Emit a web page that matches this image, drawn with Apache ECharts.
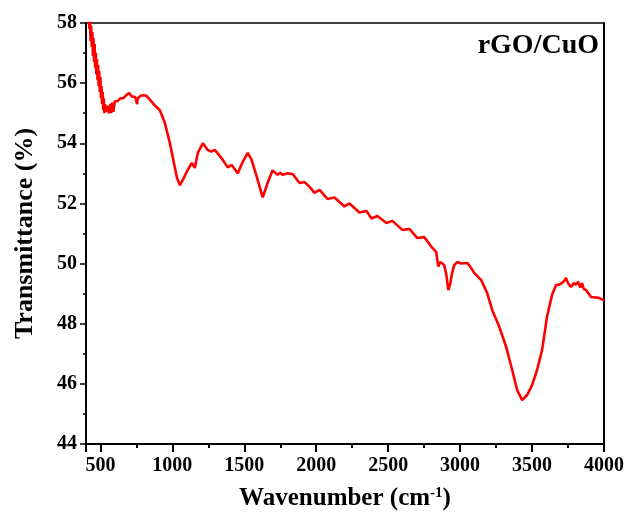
<!DOCTYPE html>
<html>
<head>
<meta charset="utf-8">
<script src="https://cdn.jsdelivr.net/npm/echarts@6/dist/echarts.min.js"></script>
<style>html,body{margin:0;padding:0;background:#fff}#c{width:627px;height:516px}</style>
</head>
<body>
<div id="c"></div>
<script>
const wavenumber = [420,424,428,432,436,440,444,448,452,456,460,464,468,472,476,480,484,488,492,496,500,504,508,512,516,520,524,528,532,540,550,560,570,575,580,590,600,610,620,640,660,680,700,720,740,750,755,760,780,800,820,844,870,913,948,983,1003,1031,1052,1073,1100,1135,1156,1177,1212,1246,1270,1295,1343,1385,1413,1454,1489,1524,1551,1586,1628,1662,1697,1732,1750,1766,1801,1836,1884,1919,1954,1988,2023,2078,2127,2196,2231,2300,2349,2384,2425,2488,2529,2599,2647,2703,2751,2807,2834,2848,2862,2875,2890,2905,2918,2930,2945,2959,2980,3008,3050,3070,3098,3147,3188,3223,3272,3320,3362,3396,3431,3466,3500,3535,3570,3604,3639,3667,3690,3702,3720,3736,3750,3771,3790,3806,3820,3835,3847,3860,3875,3910,3965,3993,4000];
const transmittance = [58.2,57.8,58.1,57.4,57.9,57.2,57.7,56.9,57.5,56.7,57.3,56.5,57.0,56.3,56.8,56.1,56.6,55.9,56.4,55.7,56.2,55.5,55.9,55.3,55.7,55.1,55.5,55.0,55.3,55.05,55.25,55.0,55.3,55.0,55.35,55.05,55.4,55.45,55.4,55.5,55.5,55.6,55.67,55.55,55.55,55.4,55.3,55.5,55.58,55.6,55.58,55.45,55.3,55.1,54.68,54.0,53.54,52.88,52.6,52.78,53.05,53.35,53.18,53.68,54.0,53.78,53.72,53.78,53.5,53.2,53.28,53.0,53.38,53.68,53.45,52.9,52.2,52.68,53.1,52.95,53.02,52.95,53.0,52.98,52.68,52.71,52.55,52.35,52.45,52.15,52.2,51.9,52.0,51.7,51.75,51.5,51.58,51.35,51.42,51.12,51.15,50.85,50.88,50.52,50.39,49.9,50.05,50.02,49.95,49.6,49.12,49.3,49.7,49.95,50.05,50.0,50.02,49.9,49.69,49.45,49.02,48.46,47.9,47.23,46.46,45.8,45.46,45.63,45.96,46.46,47.13,48.23,48.96,49.29,49.3,49.35,49.4,49.52,49.35,49.22,49.35,49.3,49.4,49.2,49.35,49.15,49.12,48.89,48.86,48.79,48.78];
const sampleLabel = 'rGO/CuO';

const font = 'Liberation Serif, Times New Roman, serif';
const chart = echarts.init(document.getElementById('c'), null, {renderer: 'canvas'});
chart.setOption({
  animation: false,
  backgroundColor: '#fff',
  title: {
    text: sampleLabel, right: 28, top: 32, padding: 0,
    textStyle: {fontFamily: font, fontWeight: 'bold', fontSize: 28, color: '#000'}
  },
  grid: {left: 86, right: 22, top: 23, bottom: 72, show: false},
  xAxis: [{
    type: 'value', min: 400, max: 4000, splitNumber: 7, position: 'bottom',
    axisLine: {show: true, onZero: false, lineStyle: {color: '#000', width: 2}},
    axisTick: {show: true, inside: false, length: 8, lineStyle: {color: '#000', width: 2}},
    minorTick: {show: true, splitNumber: 2, length: 4, lineStyle: {color: '#000', width: 2}},
    axisLabel: {show: true, showMinLabel: false, showMaxLabel: true, hideOverlap: false, margin: 12, formatter: v => (v % 500 === 0 ? String(v) : ''), fontFamily: font, fontWeight: 'bold', fontSize: 20, color: '#000'},
    splitLine: {show: false},
    name: 'Wavenumber (cm{sup|-1})', nameLocation: 'middle', nameGap: 42,
    nameTextStyle: {fontFamily: font, fontWeight: 'bold', fontSize: 25, color: '#000',
      rich: {sup: {fontFamily: font, fontWeight: 'bold', fontSize: 15, color: '#000', verticalAlign: 'top', lineHeight: 12, padding: [0,0,10,0]}}}
  }, {
    type: 'value', min: 400, max: 4000, position: 'top',
    axisLine: {show: true, onZero: false, lineStyle: {color: '#000', width: 1.5}},
    axisTick: {show: false}, axisLabel: {show: false}, splitLine: {show: false}
  }],
  yAxis: [{
    type: 'value', min: 44, max: 58, interval: 2, position: 'left',
    axisLine: {show: true, onZero: false, lineStyle: {color: '#000', width: 2}},
    axisTick: {show: true, length: 6, lineStyle: {color: '#000', width: 1.5}},
    minorTick: {show: true, splitNumber: 2, length: 3, lineStyle: {color: '#000', width: 1.5}},
    axisLabel: {margin: 9, fontFamily: font, fontWeight: 'bold', fontSize: 20, color: '#000'},
    splitLine: {show: false},
    name: 'Transmittance (%)', nameLocation: 'middle', nameGap: 48,
    nameTextStyle: {fontFamily: font, fontWeight: 'bold', fontSize: 26, color: '#000'}
  }, {
    type: 'value', min: 44, max: 58, position: 'right',
    axisLine: {show: true, onZero: false, lineStyle: {color: '#000', width: 2}},
    axisTick: {show: false}, axisLabel: {show: false}, splitLine: {show: false}
  }],
  series: [{
    type: 'line', xAxisIndex: 0, yAxisIndex: 0, showSymbol: false, clip: true,
    data: wavenumber.map((w, i) => [w, transmittance[i]]),
    lineStyle: {color: '#ff0000', width: 2.6},
    itemStyle: {color: '#ff0000'}
  }]
});
</script>
</body>
</html>
